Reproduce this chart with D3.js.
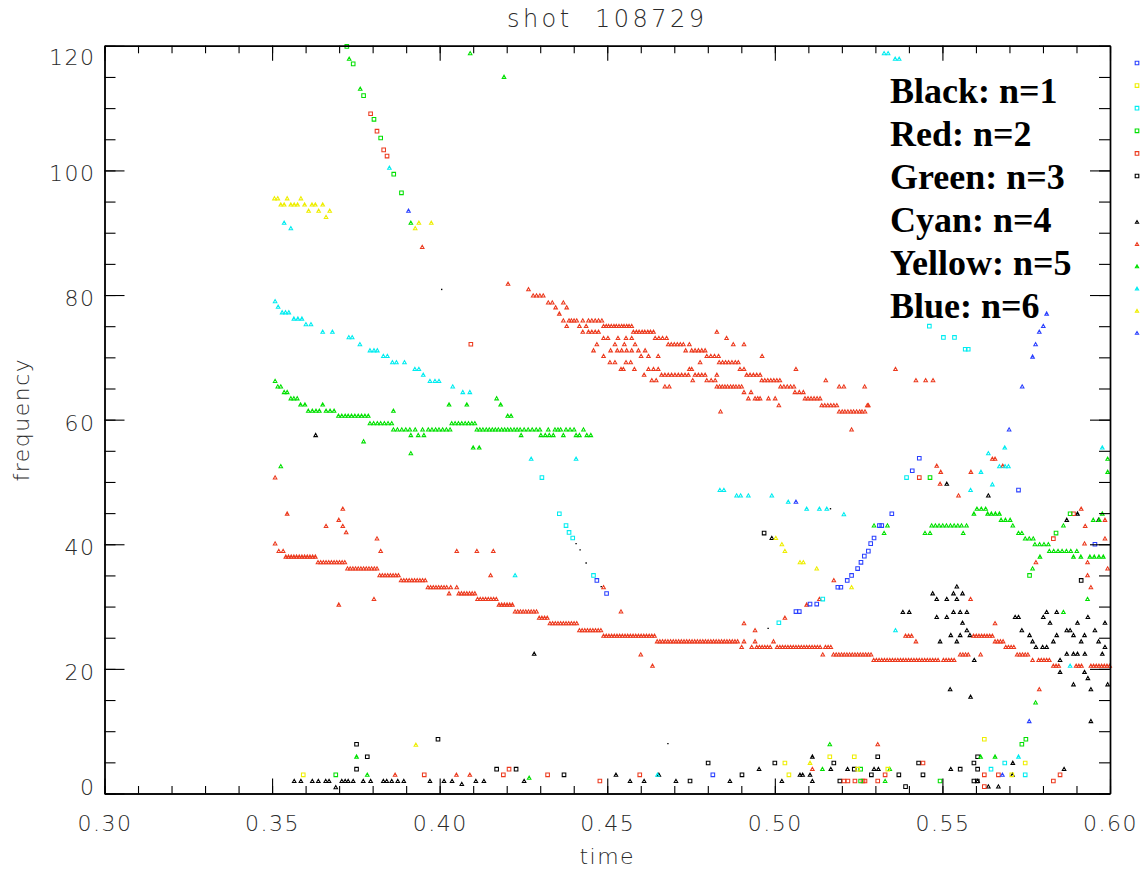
<!DOCTYPE html>
<html><head><meta charset="utf-8">
<script src="https://cdn.jsdelivr.net/npm/d3@7"></script>
<style>
html,body{margin:0;padding:0;background:#fff;}
svg{display:block;}
</style></head><body>
<svg id="chart" width="1146" height="873"></svg>
<script>
// ---------------- text / ticks ----------------
const titleText = "shot  108729";
const xLabelText = "time";
const yLabelText = "frequency";
const xTicks = [0.30, 0.35, 0.40, 0.45, 0.50, 0.55, 0.60];
const yTicks = [0, 20, 40, 60, 80, 100, 120];
const legendLines = ["Black: n=1", "Red: n=2", "Green: n=3", "Cyan: n=4", "Yellow: n=5", "Blue: n=6"];
const keySquareColors = ["blue", "yellow", "cyan", "green", "red", "black"];
const keyTriangleColors = ["black", "red", "green", "cyan", "yellow", "blue"];

// ---------------- data: rows of [frequency, [times...]] ----------------
const redTri = [
 [87.7,[.3948]],[81.8,[.4204]],[80.9,[.4265]],
 [79.9,[.4279,.4289,.4299,.4309]],
 [78.8,[.4324,.4336,.4369]],[78.0,[.4346,.4379]],[77.0,[.4357]],
 [75.9,[.4369,.4386,.4393,.4401,.4409,.4427,.4444,.4454,.4464,.4474,.4484]],
 [75.0,[.4379,.4417,.4437,.4489,.4497,.4504,.4512,.4520,.4527,.4535,.4543,.4550,.4558,.4565,.4573]],
 [74.1,[.4427,.4444,.4454,.4464,.4474,.4578,.4587,.4595,.4604,.4612,.4621,.4629,.4638,.4827]],
 [73.1,[.4489,.4502,.4532,.4556,.4573,.4643,.4654,.4665,.4677,.4856]],
 [72.1,[.4469,.4523,.4551,.4583,.4682,.4691,.4700,.4709,.4718,.4727,.4745,.4876,.4908]],
 [71.1,[.4459,.4510,.4530,.4543,.4558,.4573,.4593,.4613,.4734,.4752,.4762,.4772,.4782,.4792]],
 [70.2,[.4489,.4601,.4623,.4652,.4797,.4809,.4820,.4832,.4962]],
 [69.2,[.4508,.4523,.4556,.4570,.4777,.4834,.4844,.4853,.4862,.4872,.4882,.4891]],
 [68.1,[.4541,.4548,.4581,.4623,.4638,.4652,.4745,.4752,.4896,.4908,.5063,.5360]],
 [67.2,[.4610,.4662,.4672,.4682,.4692,.4702,.4712,.4722,.4732,.4742,.4762,.4772,.4782,.4792,.4827,.4916,.4926,.4936,.4946,.4956]],
 [66.3,[.4633,.4646,.4755,.4797,.4810,.4822,.4961,.4970,.4979,.4988,.4997,.5006,.5015,.5152,.5421,.5450,.5472]],
 [65.3,[.4672,.4685,.4827,.4835,.4843,.4851,.4859,.4868,.4876,.4884,.4893,.4901,.5017,.5027,.5037,.5047,.5057,.5192,.5206,.5268]],
 [64.4,[.4908,.4929,.5060,.5073,.5085]],
 [63.4,[.4921,.4941,.4949,.4956,.4981,.5001,.5090,.5099,.5108,.5117,.5126,.5135]],
 [62.3,[.5012,.5140,.5149,.5158,.5167,.5176,.5185,.5276,.5279]],
 [61.3,[.4838,.5192,.5201,.5209,.5218,.5227,.5235,.5244,.5253,.5260,.5269]],
 [58.4,[.5229]],[53.7,[.5649,.5657]],[52.6,[.5483,.5680]],[51.6,[.5495,.5585]],
 [50.7,[.3509]],[49.7,[.5493]],[47.8,[.5548]],[45.7,[.3711,.5914]],[44.9,[.3545]],
 [43.9,[.3699,.5985]],[42.9,[.3661,.3711,.5926]],[41.9,[.3721]],[40.9,[.3813,.5985]],
 [40.1,[.3509,.5924]],
 [38.9,[.3520,.3533,.3824,.4051,.4111,.4160]],
 [38.0,[.3541,.3549,.3557,.3565,.3573,.3581,.3589,.3597,.3605,.3613,.3621,.3629]],
 [37.1,[.3637,.3645,.3653,.3661,.3669,.3677,.3685,.3693,.3701,.3709,.3717,.5779,.5933]],
 [36.1,[.3725,.3733,.3741,.3749,.3757,.3765,.3773,.3781,.3789,.3797,.3805,.3813,.5993]],
 [35.0,[.3821,.3829,.3837,.3845,.3853,.3861,.3869,.3877,.4152,.5933]],
 [34.2,[.3885,.3893,.3901,.3909,.3917,.3925,.3933,.3941,.3949,.3957,.5176]],
 [33.1,[.3965,.3973,.3981,.3989,.3997,.4005,.4013,.4021,.4033,.4051,.4489,.5943]],
 [32.1,[.4028,.4057,.4065,.4073,.4081,.4089,.4097,.4105]],
 [31.2,[.3804,.4113,.4121,.4129,.4137,.4145,.4153,.4161,.4169,.5133,.5584]],
 [30.3,[.3699,.4177,.4185,.4193,.4201,.4209,.4217,.5095]],
 [29.2,[.4225,.4233,.4241,.4249,.4257,.4265,.4273,.4281,.4289,.4541]],
 [28.2,[.4297,.4305,.4313,.4321,.5030]],
 [27.3,[.4329,.4337,.4345,.4353,.4361,.4369,.4377,.4385,.4393,.4401,.4409,.4908,.5657]],
 [26.2,[.4417,.4425,.4433,.4441,.4449,.4457,.4465,.4473,.4481,.4941]],
 [25.3,[.4489,.4497,.4505,.4513,.4521,.4529,.4537,.4545,.4553,.4561,.4569,.4577,.4585,.4593,.4601,.4609,.4617,.4625,.4633,.4641,.5390,.5399,.5408,.5593,.5601,.5609,.5617,.5625,.5633,.5641,.5649]],
 [24.4,[.4649,.4657,.4665,.4673,.4681,.4689,.4697,.4705,.4713,.4721,.4729,.4737,.4745,.4753,.4761,.4769,.4777,.4785,.4793,.4801,.4809,.4817,.4825,.4833,.4841,.4849,.4857,.4865,.4873,.4881,.4889,.4908,.4941,.4996,.5421,.5657,.5665,.5673,.5681]],
 [23.5,[.4901,.4931,.4946,.4954,.4962,.4970,.4978,.4986,.5007,.5015,.5023,.5031,.5039,.5047,.5055,.5063,.5071,.5079,.5087,.5095,.5103,.5111,.5119,.5127,.5135,.5151,.5159,.5167,.5689,.5697,.5705,.5713]],
 [22.3,[.4600,.5143,.5175,.5183,.5191,.5199,.5207,.5215,.5223,.5231,.5239,.5247,.5255,.5263,.5271,.5279,.5287,.5553,.5561,.5569,.5577,.5614,.5723,.5731,.5739,.5747,.5755]],
 [21.4,[.5295,.5303,.5311,.5319,.5327,.5335,.5343,.5351,.5359,.5367,.5375,.5383,.5391,.5399,.5407,.5415,.5423,.5431,.5439,.5447,.5455,.5463,.5471,.5479,.5487,.5503,.5511,.5519,.5527,.5535,.5769,.5787,.5795,.5803,.5811,.5819]],
 [20.5,[.4635,.5831,.5839,.5847,.5899,.5907,.5915,.5943,.5951,.5959,.5967,.5975,.5983,.5991,.5999]],
 [16.7,[.5789]],[7.9,[.5307]],[3.9,[.5112]],[3.0,[.3867,.4050,.4090]]
];
const redSq = [
 [109.1,[.3794]],[106.3,[.3813]],[103.3,[.3833]],[102.3,[.3843]],[72.1,[.4093]],
 [50.7,[.5431]],[44.9,[.5891]],[40.9,[.5831]],[4.9,[.5442]],[3.9,[.4207]],
 [3.0,[.3954,.4190,.4322,.4597,.5329,.5625,.5667,.5851]],
 [2.0,[.4478,.5206,.5218,.5239,.5263,.5269,.5307,.5831]],[1.1,[.5625]]
];
const greenTri = [
 [117.9,[.3730]],[113.1,[.3763]],[118.8,[.4091]],[115.0,[.4192]],[91.6,[.3914]],
 [66.2,[.3509]],[65.3,[.3517,.3526]],[64.4,[.3536,.3545]],[63.4,[.3556,.3565,.3575,.4170]],
 [62.4,[.3585,.3598,.3651,.4028,.4081,.4182]],
 [61.4,[.3608,.3620,.3631,.3641,.3661,.3673,.3685,.3862]],
 [60.6,[.3698,.3708,.3718,.3727,.3737,.3747,.3757,.3767,.3777,.3787,.4203,.4213]],
 [59.4,[.3792,.3803,.3814,.3824,.3835,.3846,.3857,.4036,.4046,.4056,.4066,.4076,.4086,.4096,.4105]],
 [58.4,[.3862,.3874,.3887,.3899,.3911,.3927,.3949,.3966,.3977,.3988,.3998,.4009,.4020,.4031,.4111,.4120,.4129,.4139,.4148,.4157,.4166,.4175,.4185,.4194,.4203,.4212,.4222,.4231,.4240,.4252,.4264,.4276,.4288,.4299,.4324,.4344,.4353,.4361,.4377,.4389,.4401,.4429]],
 [57.5,[.3914,.3936,.3953,.4243,.4302,.4315,.4327,.4339,.4369,.4407,.4417,.4439,.4451]],
 [56.5,[.3773]],[55.5,[.4100,.4118]],[54.6,[.3914]],[52.5,[.3526]],
 [53.7,[.5993]],[51.6,[.5993]],
 [45.7,[.5603,.5616,.5629]],
 [44.9,[.5594,.5635,.5646,.5658,.5670,.5977]],
 [43.9,[.5675,.5688,.5702,.5950,.5968]],
 [43.0,[.5296,.5336,.5468,.5479,.5490,.5501,.5512,.5524,.5535,.5546,.5557,.5572,.5710,.5861]],
 [41.8,[.5326,.5448,.5463,.5562,.5727,.5737]],
 [40.9,[.5747,.5759,.5771]],
 [40.0,[.5776,.5790,.5803,.5816]],
 [38.9,[.5819,.5832,.5845,.5857,.5870,.5883,.5901]],
 [38.0,[.5791,.5891,.5913,.5940,.5953,.5967,.5980]],
 [36.1,[.5769]],[31.2,[.5933]],[29.1,[.5861]],[14.6,[.5778]],
 [7.9,[.5164]],[5.9,[.3752,.5614,.5657]],[3.9,[.5142,.5343]],[3.0,[.3784]],[2.5,[.4267]],[2.0,[.5329]]
];
const greenSq = [
 [119.9,[.3723]],[117.1,[.3742]],[112.0,[.3773]],[108.2,[.3804]],[105.2,[.3824]],[99.4,[.3863]],[96.4,[.3886]],
 [50.7,[.5463]],[44.9,[.5881]],[41.8,[.5839]],[35.0,[.5760]],[8.7,[.5749]],[7.9,[.5737]],
 [3.9,[.5256]],[3.0,[.3690]],[2.0,[.5256,.5493]]
];
const cyanTri = [
 [118.8,[.5326,.5338]],[117.9,[.5359,.5371]],[100.4,[.3850]],[91.6,[.3536]],[90.7,[.3556]],
 [79.0,[.3509]],[78.1,[.3518]],[77.2,[.3530,.3540,.3550]],[76.2,[.3565,.3577,.3589]],[75.3,[.3601,.3616]],
 [74.1,[.3651,.3680]],[73.2,[.3729,.3739]],[72.1,[.3762]],[71.1,[.3792,.3804,.3814]],[70.2,[.3832,.3844]],
 [69.2,[.3859,.3871,.3895]],[68.1,[.3926,.3938]],[67.2,[.3951]],[66.2,[.3971,.3986,.3998]],[65.3,[.4039]],[64.4,[.4069,.4090]],
 [55.5,[.5686,.5977]],[54.6,[.5637]],[53.7,[.4273,.4407]],[52.5,[.5670,.5687,.5697]],[51.6,[.5615]],[49.6,[.5649]],
 [48.7,[.4836,.4848,.5584]],[47.8,[.4886,.4898,.4921,.4991]],[46.8,[.5040]],[45.7,[.5095,.5133,.5155]],[44.8,[.5206]],
 [35.0,[.4225]],[26.2,[.5360]],[20.5,[.5881]],[5.9,[.5727]],[3.0,[.4650]]
];
const cyanSq = [
 [75.0,[.5461]],[73.2,[.5503,.5536]],[71.3,[.5568,.5577]],[50.7,[.4305,.5393]],[44.9,[.4357]],[43.0,[.4377]],
 [41.9,[.4386]],[41.0,[.4397]],[35.0,[.4459]],[31.2,[.5143]],[27.4,[.5012]],[4.9,[.5686]],[3.9,[.5645]],[3.0,[.5747]]
];
const yellowTri = [
 [95.5,[.3507,.3517,.3545,.3586]],[94.5,[.3526,.3536,.3556,.3566,.3576,.3597,.3619,.3629,.3651]],
 [93.5,[.3609,.3639,.3672]],[92.5,[.3661]],[91.6,[.3938,.3975]],[90.7,[.3927]],
 [41.0,[.5003]],[40.0,[.5021]],[38.9,[.5030]],[37.1,[.5075,.5085]],[36.1,[.5125]],[33.1,[.5229]],
 [7.8,[.3929]],[4.9,[.5105]]
];
const yellowSq = [
 [8.7,[.5625]],[5.9,[.5164,.5237]],[4.9,[.5030,.5747]],[3.9,[.5247,.5337]],[3.0,[.3593,.5042,.5707]]
];
const blueTri = [
 [93.5,[.3907]],[77.0,[.5811]],[75.0,[.5801]],[74.1,[.5789]],[72.1,[.5778]],[70.1,[.5769]],[65.3,[.5738]],
 [58.4,[.5699]],[46.8,[.5063]],[11.6,[.5759]],[3.0,[.5679]]
];
const blueSq = [
 [53.8,[.5431]],[51.8,[.5410]],[48.7,[.5727]],[44.9,[.5349]],[43.0,[.5312,.5319]],[41.0,[.5296]],[40.1,[.5286]],
 [40.0,[.5955]],[38.9,[.5279]],[38.1,[.5267]],[37.1,[.5257]],[36.1,[.5247]],[35.0,[.5229]],[34.2,[.4469,.5216]],
 [33.1,[.5188,.5197]],[32.1,[.4498]],[30.4,[.5105,.5125]],[29.2,[.5063,.5073]],[3.0,[.4815]]
];
const blackTri = [
 [57.5,[.3630]],[49.7,[.5513]],[47.8,[.5637]],[44.9,[.5903]],[43.9,[.5871,.5966]],[41.0,[.4991]],
 [33.2,[.5543]],[32.1,[.5471,.5533,.5560]],[31.2,[.5483,.5513,.5543]],
 [29.1,[.5382,.5401,.5533,.5553,.5573,.5811,.5841]],[28.3,[.5483,.5513,.5717,.5727,.5801,.5934]],
 [27.4,[.5560,.5821,.5903,.5985]],[26.2,[.5573,.5737,.5871,.5881,.5955]],
 [25.4,[.5525,.5553,.5582,.5760,.5841,.5891,.5924]],[24.4,[.5493,.5543,.5769,.5831,.5914,.5966]],
 [23.5,[.5779,.5799,.5811,.5985]],[22.4,[.4282,.5871,.5891,.5903,.5925,.5977]],[21.4,[.5595,.5851]],
 [19.5,[.5851,.5924]],[18.5,[.5934]],[17.5,[.5891,.5993]],[16.7,[.5523,.5943]],[15.5,[.5584]],[11.6,[.5943]],
 [5.9,[.5112]],[4.9,[.5710]],[3.9,[.4953,.5167,.5217,.5296,.5309,.5525,.5863]],
 [3.0,[.4526,.4654,.5075,.5083,.5105,.5709]],
 [2.0,[.3566,.3586,.3620,.3638,.3660,.3670,.3708,.3718,.3727,.3742,.3772,.3794,.3832,.3842,.3857,.3875,.3893,.3971,.4013,.4037,.4108,.4132,.4252,.4568,.4610,.4705,.4866,.5021,.5112,.5605]],
 [1.5,[.4066]],[1.1,[.5637,.5667]],[1.0,[.3690]]
];
const blackSq = [
 [41.8,[.4968]],[34.2,[.5914]],[8.7,[.3995]],[7.9,[.3752]],[5.9,[.3784,.5307,.5605]],
 [4.9,[.4801,.5000,.5176,.5429,.5594]],[3.9,[.3752,.4170,.4228,.5237,.5553,.5605]],
 [3.0,[.4371,.4902,.5288,.5370,.5442]],[2.0,[.4747,.5194,.5594,.5604]],[1.1,[.5390]]
];
const blackDot = [
 [80.9,[.4006]],[45.7,[.5166]],[40.1,[.4407]],[39.1,[.4419]],[37.0,[.4437]],[33.2,[.4482]],[26.5,[.4980]],[8.0,[.4681]]
];

// ---------------- drawing ----------------
const palette = {black:"#000000", red:"#ec3a1e", green:"#00e000", cyan:"#00ecf0", yellow:"#eeee00", blue:"#2a40ff"};
const series = [
  {rows: blackSq, color: "black", shape: "sq"},
  {rows: blackTri, color: "black", shape: "tri"},
  {rows: redSq, color: "red", shape: "sq"},
  {rows: redTri, color: "red", shape: "tri"},
  {rows: greenSq, color: "green", shape: "sq"},
  {rows: greenTri, color: "green", shape: "tri"},
  {rows: cyanSq, color: "cyan", shape: "sq"},
  {rows: cyanTri, color: "cyan", shape: "tri"},
  {rows: yellowSq, color: "yellow", shape: "sq"},
  {rows: yellowTri, color: "yellow", shape: "tri"},
  {rows: blueSq, color: "blue", shape: "sq"},
  {rows: blueTri, color: "blue", shape: "tri"},
  {rows: blackDot, color: "black", shape: "dot"}
];

const W = 1146, H = 873;
const plot = {left: 104.5, right: 1110, top: 45.8, bottom: 793.5};
const x = d3.scaleLinear().domain([0.30, 0.60]).range([plot.left, plot.right]);
const y = d3.scaleLinear().domain([0, 120]).range([plot.bottom, plot.top]);

const svg = d3.select("#chart");
svg.append("rect").attr("width", W).attr("height", H).attr("fill", "#fff");

const labelFont = "'DejaVu Sans', sans-serif";
const labelColor = "#2a2a2a";

// markers
const shapePath = {
  tri: (px, py) => `M${px-1.8},${py+1.4}h3.6l-1.8,-3.2z`,
  sq:  (px, py) => `M${px-1.8},${py-1.8}h3.6v3.6h-3.6z`,
  dot: (px, py) => `M${px-0.7},${py-0.7}h1.4v1.4h-1.4z`
};
const marks = svg.append("g");
series.forEach(s => {
  const pts = s.rows.flatMap(([f, ts]) => ts.map(t => ({t, f})));
  marks.append("g")
    .selectAll("path").data(pts).join("path")
    .attr("d", d => shapePath[s.shape](x(d.t), y(d.f)))
    .attr("fill", s.shape === "dot" ? palette[s.color] : "none")
    .attr("stroke", s.shape === "dot" ? "none" : palette[s.color])
    .attr("stroke-width", 1.05);
});

// axes
function styleAxis(g) {
  g.selectAll("path.domain").attr("stroke", "#000").attr("stroke-width", 1.4);
  g.selectAll(".tick line").attr("stroke", "#000").attr("stroke-width", 1.1);
  g.selectAll(".tick text").attr("font-family", labelFont).attr("font-size", 22)
    .attr("font-weight", 200).attr("fill", labelColor);
}
const xMinor = x.ticks(30);
const yMinor = y.ticks(24);

// bottom
svg.append("g").attr("transform", `translate(0,${plot.bottom})`)
  .call(d3.axisBottom(x).tickValues(xMinor).tickSize(-7.5).tickSizeOuter(0).tickFormat(""))
  .call(styleAxis);
const gB = svg.append("g").attr("transform", `translate(0,${plot.bottom})`)
  .call(d3.axisBottom(x).tickValues(xTicks).tickSize(-15).tickSizeOuter(0).tickFormat(d3.format(".2f")))
  .call(styleAxis);
gB.selectAll(".tick text").attr("y", 37).attr("dy", 0).attr("letter-spacing", 1.5);
// top
svg.append("g").attr("transform", `translate(0,${plot.top})`)
  .call(d3.axisTop(x).tickValues(xMinor).tickSize(-7.5).tickSizeOuter(0).tickFormat(""))
  .call(styleAxis);
svg.append("g").attr("transform", `translate(0,${plot.top})`)
  .call(d3.axisTop(x).tickValues(xTicks).tickSize(-15).tickSizeOuter(0).tickFormat(""))
  .call(styleAxis);
// left
svg.append("g").attr("transform", `translate(${plot.left},0)`)
  .call(d3.axisLeft(y).tickValues(yMinor).tickSize(-11).tickSizeOuter(0).tickFormat(""))
  .call(styleAxis);
const gL = svg.append("g").attr("transform", `translate(${plot.left},0)`)
  .call(d3.axisLeft(y).tickValues(yTicks).tickSize(-20).tickSizeOuter(0).tickFormat(d3.format("d")))
  .call(styleAxis);
gL.selectAll(".tick text").attr("x", -9).attr("dy", "0.36em").attr("letter-spacing", 1.5)
  .attr("transform", d => {
    const ty = y(d);
    let cy = ty + 2.5;
    cy = Math.max(plot.top + 11, Math.min(plot.bottom - 7, cy));
    return `translate(0,${cy - ty})`;
  });
// right
svg.append("g").attr("transform", `translate(${plot.right},0)`)
  .call(d3.axisRight(y).tickValues(yMinor).tickSize(-11).tickSizeOuter(0).tickFormat(""))
  .call(styleAxis);
svg.append("g").attr("transform", `translate(${plot.right},0)`)
  .call(d3.axisRight(y).tickValues(yTicks).tickSize(-20).tickSizeOuter(0).tickFormat(""))
  .call(styleAxis);

// titles
svg.append("text").attr("x", (plot.left + plot.right) / 2).attr("y", 27)
  .attr("text-anchor", "middle").attr("font-family", labelFont).attr("font-size", 24)
  .attr("font-weight", 200).attr("letter-spacing", 3.5).attr("fill", labelColor)
  .style("white-space", "pre").text(titleText);
svg.append("text").attr("x", (plot.left + plot.right) / 2).attr("y", 864)
  .attr("text-anchor", "middle").attr("font-family", labelFont).attr("font-size", 22)
  .attr("font-weight", 200).attr("letter-spacing", 1.5).attr("fill", labelColor).text(xLabelText);
svg.append("text").attr("transform", `translate(29,${(plot.top + plot.bottom) / 2}) rotate(-90)`)
  .attr("text-anchor", "middle").attr("font-family", labelFont).attr("font-size", 22)
  .attr("font-weight", 200).attr("letter-spacing", 1.5).attr("fill", labelColor).text(yLabelText);

// annotation text
svg.append("g").selectAll("text").data(legendLines).join("text")
  .attr("x", 890).attr("y", (d, i) => 103 + i * 43)
  .attr("font-family", "'Liberation Serif', 'Times New Roman', serif")
  .attr("font-weight", "bold").attr("font-size", 36).attr("fill", "#000")
  .text(d => d);

// colour keys outside the frame
const keyX = 1137;
svg.append("g").selectAll("path").data(keySquareColors).join("path")
  .attr("d", (c, i) => `M${keyX-1.8},${63 + i*22.6 - 1.8}h3.6v3.6h-3.6z`)
  .attr("fill", "none").attr("stroke", c => palette[c]).attr("stroke-width", 1.1);
svg.append("g").selectAll("path").data(keyTriangleColors).join("path")
  .attr("d", (c, i) => `M${keyX-1.6},${222 + i*22.2 + 1.3}h3.2l-1.6,-2.8z`)
  .attr("fill", "none").attr("stroke", c => palette[c]).attr("stroke-width", 1.1);
</script>
</body></html>
